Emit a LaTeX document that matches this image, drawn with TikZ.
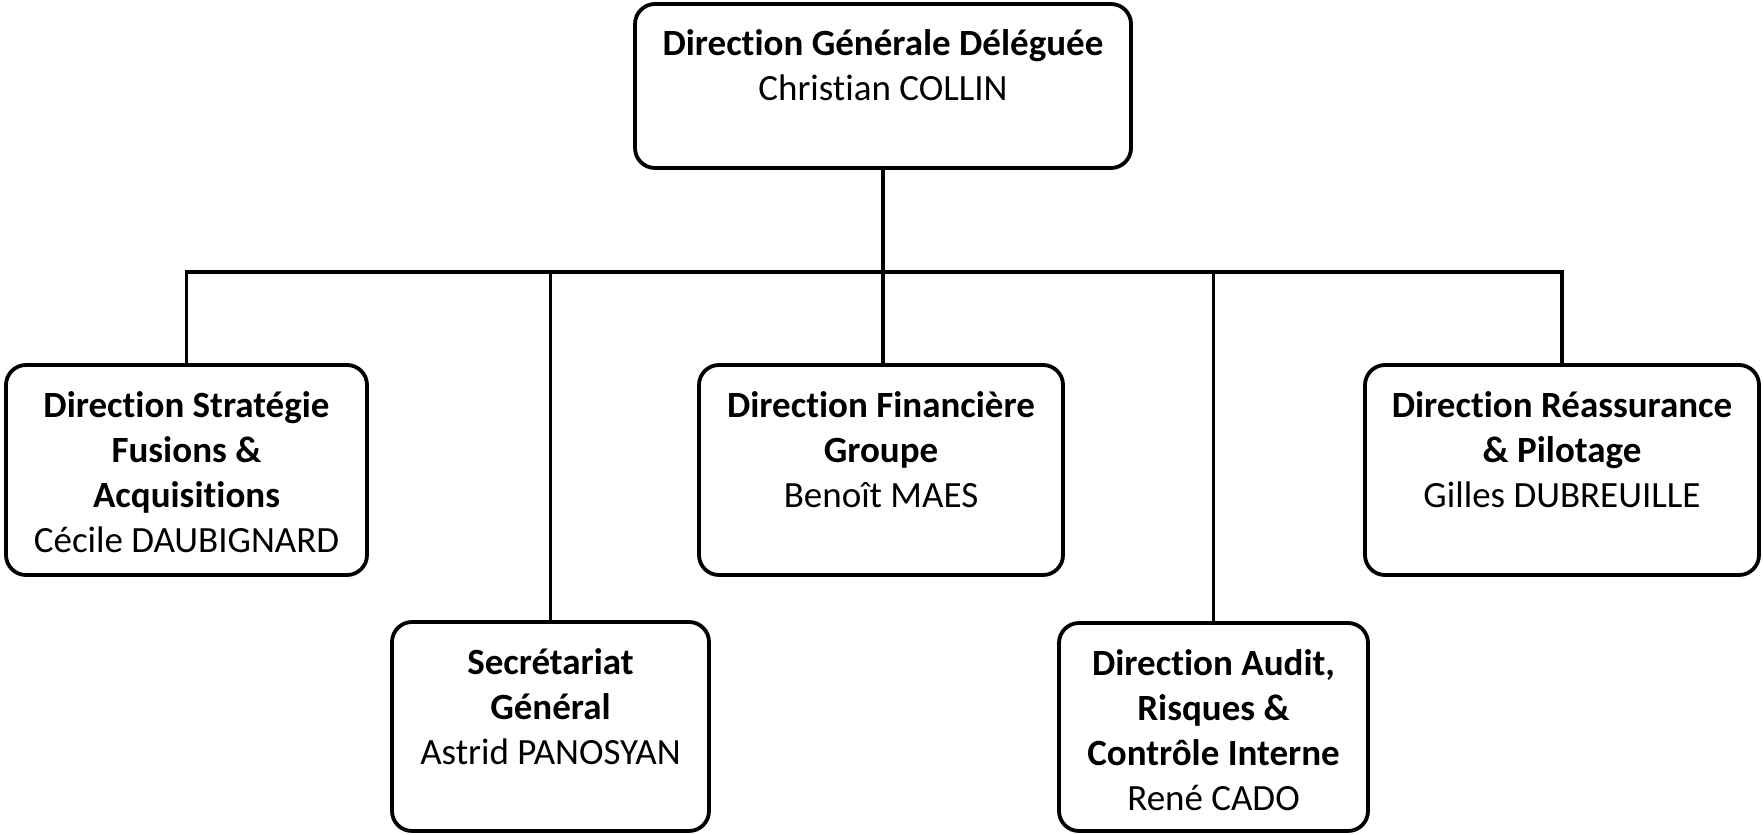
\documentclass[tikz,border=0pt]{standalone}
\usepackage{fontspec}
\setmainfont{Carlito}[Ligatures=CommonOff]
\usepackage{tikz}

\tikzset{
  unit/.style={draw, line width=1.9pt, rounded corners=10pt, inner sep=0pt},
  txt/.style={anchor=north, align=center, inner sep=0pt,
    font=\fontsize{18.5}{22.5}\selectfont, yshift=-11pt}
}

\begin{document}
\begin{tikzpicture}[x=0.5pt, y=-0.5pt]
\useasboundingbox (0,0) rectangle (1764,834);

\node[unit, minimum width=248pt, minimum height=82pt] (dg) at (883,86) {};
\node[unit, minimum width=180.5pt, minimum height=105pt] (strat) at (186.5,470) {};
\node[unit, minimum width=182pt, minimum height=105pt] (fin) at (881,470) {};
\node[unit, minimum width=197pt, minimum height=105pt] (reas) at (1562,470) {};
\node[unit, minimum width=158.5pt, minimum height=104.5pt] (secr) at (550.5,726.5) {};
\node[unit, minimum width=154.5pt, minimum height=104pt] (audit) at (1213.5,727) {};

\node[txt] (dgt) at (dg.north) {\strut\textbf{Direction Générale Déléguée}\\Christian COLLIN};
\node[txt] (stratt) at (strat.north) {\strut\textbf{Direction Stratégie}\\\textbf{Fusions \&}\\\textbf{Acquisitions}\\Cécile DAUBIGNARD};
\node[txt] (fint) at (fin.north) {\strut\textbf{Direction Financière}\\\textbf{Groupe}\\Benoît MAES};
\node[txt] (reast) at (reas.north) {\strut\textbf{Direction Réassurance}\\\textbf{\& Pilotage}\\Gilles DUBREUILLE};
\node[txt] (secrt) at (secr.north) {\strut\textbf{Secrétariat}\\\textbf{Général}\\Astrid PANOSYAN};
\node[txt] (auditt) at (audit.north) {\strut\textbf{Direction Audit,}\\\textbf{Risques \&}\\\textbf{Contrôle Interne}\\René CADO};

% liaisons
\coordinate (bus) at (883,272);
\draw[line width=1.9pt] (dg.south) -- (dg.south |- fin.north);
\draw[line width=1.9pt] (strat.north) |- (bus);
\draw[line width=1.9pt] (reas.north) |- (bus);
\draw[line width=1.9pt] (secr.north) -- (secr.north |- bus);
\draw[line width=1.9pt] (audit.north) -- (audit.north |- bus);
\end{tikzpicture}
\end{document}
